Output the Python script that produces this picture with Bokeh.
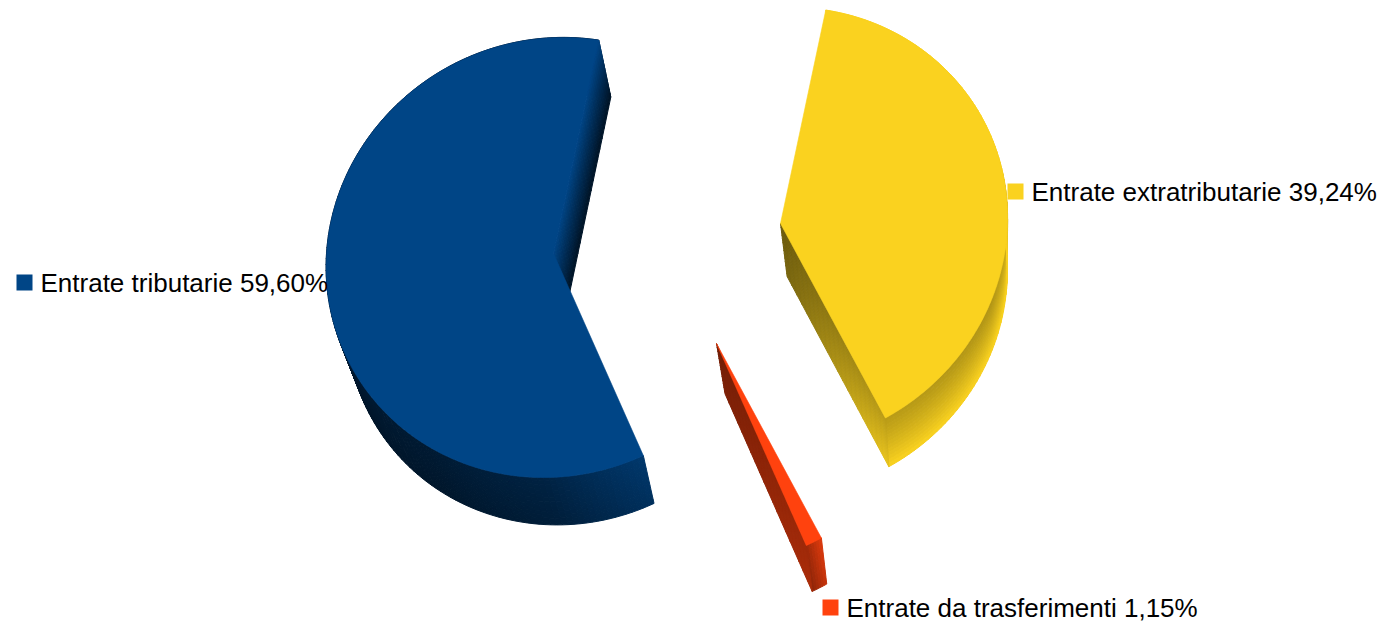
import math
import numpy as np
from bokeh.plotting import figure
from bokeh.models import Range1d
from bokeh.core.properties import value
from bokeh.embed import file_html
from bokeh.resources import INLINE

# ---- data (in pie order, counter-clockwise from the start angle)
categories = ["Entrate tributarie", "Entrate da trasferimenti", "Entrate extratributarie"]
shares = [59.60, 1.15, 39.24]
share_labels = ["59,60%", "1,15%", "39,24%"]
colors = ["#004586", "#ff420e", "#fad21f"]

# ---- layout
W, H = 1379, 624
START = 80.8
RX, RY, K, SHEAR = 227.0, 220.0, 0.018, 0.045
apexes = {0: (553.0, 253.0), 1: (716.0, 343.0), 2: (780.0, 223.0)}
label_pos = {0: (24, 282, 40, 282), 1: (830, 607, 846, 607), 2: (1015, 191, 1031, 191)}


def top_point(apex, r, deg):
    th = math.radians(deg)
    c, s = math.cos(th), math.sin(th)
    d = 1 + K * s
    x = apex[0] + r * RX * c / d + SHEAR * r * RY * s / d
    y = apex[1] - r * RY * s / d
    return x, y


def bottom_point(x, y):
    dx = 12 - 0.03 * (x - 600)
    dy = 57 - 0.022 * (y - 40)
    return x + dx, y + dy


def shade(hex_color, f):
    f = max(0.0, min(1.0, f))
    rgb = [int(hex_color[i:i + 2], 16) for i in (1, 3, 5)]
    return "#%02x%02x%02x" % tuple(int(round(v * f)) for v in rgb)


def outer_blue(deg, u, t):
    g = np.interp(deg, [80, 180, 240, 270, 296], [0.35, 0.35, 0.38, 0.5, 0.82])
    return g * (1 - 0.15 * t)


def outer_red(deg, u, t):
    return (0.62 + 0.26 * u) * (1 - 0.12 * t)


def outer_yellow(deg, u, t):
    d = deg - 360 if deg > 200 else deg
    base = np.interp(d, [-61, -20, 0, 20], [0.74, 0.70, 0.82, 1.0])
    return base + (1 - base) * t ** 1.2


def radial_blue(r, t):
    return 1 - 0.72 * t


def radial_red(r, t):
    return 0.44 + 0.18 * r + 0.05 * t


def radial_yellow(r, t):
    return 0.42 + 0.32 * r + 0.14 * t * (0.4 + r)


outer_shades = [outer_blue, outer_red, outer_yellow]
radial_shades = [radial_blue, radial_red, radial_yellow]

p = figure(width=W, height=H, output_backend="svg", toolbar_location=None,
           x_range=Range1d(0, W), y_range=Range1d(H, 0),
           min_border=0, outline_line_color=None, background_fill_color="white",
           border_fill_color="white")
p.axis.visible = False
p.grid.visible = False

total = sum(shares)
a0 = START
for i, share in enumerate(shares):
    a1 = a0 + 360.0 * share / total
    apex = apexes[i]
    base = colors[i]
    xs, ys, fills = [], [], []
    NR, ND = 20, 14

    # outer wall
    n = max(6, int((a1 - a0) / 1.5))
    angles = np.linspace(a0, a1, n + 1)
    for a in range(n):
        p0, p1 = top_point(apex, 1, angles[a]), top_point(apex, 1, angles[a + 1])
        b0, b1 = bottom_point(*p0), bottom_point(*p1)
        um = (a + 0.5) / n
        dm = (angles[a] + angles[a + 1]) / 2
        for b in range(ND):
            t0, t1 = b / ND, (b + 1) / ND
            xs.append([p0[0] + (b0[0] - p0[0]) * t0, p1[0] + (b1[0] - p1[0]) * t0,
                       p1[0] + (b1[0] - p1[0]) * t1, p0[0] + (b0[0] - p0[0]) * t1])
            ys.append([p0[1] + (b0[1] - p0[1]) * t0, p1[1] + (b1[1] - p1[1]) * t0,
                       p1[1] + (b1[1] - p1[1]) * t1, p0[1] + (b0[1] - p0[1]) * t1])
            fills.append(shade(base, outer_shades[i](dm, 1 - um if i == 0 else um, (t0 + t1) / 2)))

    # radial wall that faces the viewer
    for a in range(NR):
        r0, r1 = a / NR, (a + 1) / NR
        p0, p1 = top_point(apex, r0, a0), top_point(apex, r1, a0)
        b0, b1 = bottom_point(*p0), bottom_point(*p1)
        for b in range(ND):
            t0, t1 = b / ND, (b + 1) / ND
            xs.append([p0[0] + (b0[0] - p0[0]) * t0, p1[0] + (b1[0] - p1[0]) * t0,
                       p1[0] + (b1[0] - p1[0]) * t1, p0[0] + (b0[0] - p0[0]) * t1])
            ys.append([p0[1] + (b0[1] - p0[1]) * t0, p1[1] + (b1[1] - p1[1]) * t0,
                       p1[1] + (b1[1] - p1[1]) * t1, p0[1] + (b0[1] - p0[1]) * t1])
            fills.append(shade(base, radial_shades[i]((r0 + r1) / 2, (t0 + t1) / 2)))

    p.patches(xs, ys, fill_color=fills, line_color=fills, line_width=1.0)

    # top face
    arc = [top_point(apex, 1, d) for d in np.linspace(a0, a1, max(8, int(a1 - a0) + 1))]
    p.patch([apex[0]] + [q[0] for q in arc], [apex[1]] + [q[1] for q in arc],
            fill_color=base, line_color=base, line_width=0.6)

    # legend key and label
    kx, ky, tx, ty = label_pos[i]
    p.scatter([kx], [ky], marker="square", size=16, fill_color=base, line_color=None)
    p.text([tx], [ty], text=[f"{categories[i]} {share_labels[i]}"],
           text_font=value("Liberation Sans"), text_font_size="26px", text_color="#000000",
           text_align="left", text_baseline="alphabetic")
    a0 = a1

open("out.html", "w").write(file_html(p, INLINE))
